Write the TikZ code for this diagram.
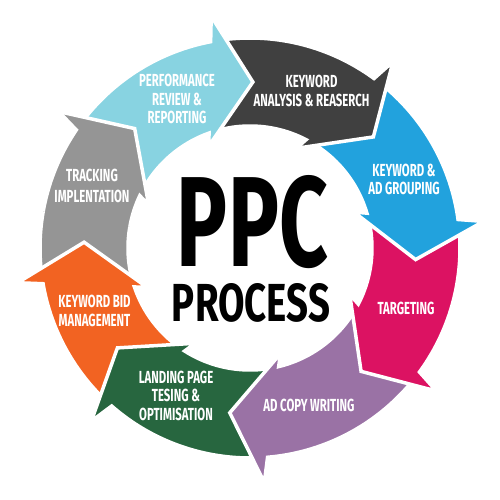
\documentclass[tikz,border=0pt]{standalone}
\usepackage{fontspec}
\usepackage{graphicx}
\newfontfamily\lblfont[FakeStretch=0.65]{Fira Sans}
\newfontfamily\bigfont{Fira Sans}
\definecolor{cLB}{HTML}{88D3E1}
\definecolor{cDark}{HTML}{404040}
\definecolor{cBlue}{HTML}{22A2DD}
\definecolor{cPink}{HTML}{DC1262}
\definecolor{cPurple}{HTML}{9A72A5}
\definecolor{cGreen}{HTML}{27663F}
\definecolor{cOrange}{HTML}{F26322}
\definecolor{cGrey}{HTML}{959595}
\tikzset{
  segshape/.style={draw=white,line width=3.5pt,line join=miter},
  lbl/.style={text=white,align=center,inner sep=0pt,
    font=\lblfont\bfseries\fontsize{17.5}{18.3}\selectfont},
  bigtxt/.style={inner sep=0pt,text=black}
}
% #1 start angle (tail), #2 tip angle, #3 colour
\newcommand\seg[3]{%
  \filldraw[segshape,fill=#3] (#1:210)
    arc[start angle=#1, end angle=#2+11.8, radius=210]
    -- (#2+10.5:235) -- (#2:166) -- (#2+23.1:109.9) -- (#2+20.6:122)
    arc[start angle=#2+20.6, end angle=#1, radius=122] -- cycle;}
\begin{document}
\begin{tikzpicture}[x=1pt,y=1pt]
\useasboundingbox (-250,-252) rectangle (250,248);
\seg{203}{134}{cGrey}
\seg{-118}{-182}{cOrange}
\seg{-72}{-143}{cGreen}
\seg{-23}{-97}{cPurple}
\seg{21}{-48}{cPink}
\seg{67}{-4}{cBlue}
\seg{114}{42}{cDark}
\seg{159}{89}{cLB}
\begin{scope}
  \clip (0,0) -- (126:330) arc[start angle=126, end angle=170, radius=330] -- cycle;
  \seg{203}{134}{cGrey}
\end{scope}
\node[lbl] (t1) at (-73,149) {PERFORMANCE\\REVIEW \&\\REPORTING};
\node[lbl] (t2) at (61.5,157) {KEYWORD\\ANALYSIS \& REASERCH};
\node[lbl] (t3) at (154,68.3) {KEYWORD \&\\AD GROUPING};
\node[lbl] (t4) at (156,-60) {TARGETING};
\node[lbl] (t5) at (59,-157) {AD COPY WRITING};
\node[lbl] (t6) at (-74,-147.7) {LANDING PAGE\\TESING \&\\OPTIMISATION};
\node[lbl] (t7) at (-155.5,-63) {KEYWORD BID\\MANAGEMENT};
\node[lbl,font=\lblfont\bfseries\fontsize{17.5}{20.7}\selectfont] (t8) at (-158,62.3) {TRACKING\\IMPLENTATION};
\node[bigtxt] (ppc) at (2.5,25.5) {\resizebox{151pt}{91pt}{\bigfont\bfseries PPC}};
\node[bigtxt] (proc) at (1,-54.5) {\resizebox{158pt}{38pt}{\bigfont\bfseries PROCESS}};
\end{tikzpicture}
\end{document}
